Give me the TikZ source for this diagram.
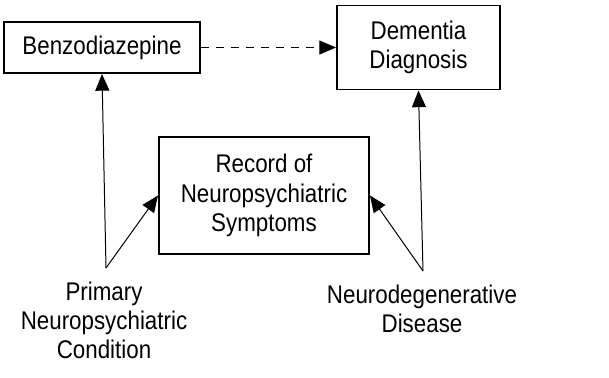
\documentclass[tikz,border=0pt]{standalone}
\usepackage{fontspec}
\setmainfont{Liberation Sans}[FakeStretch=0.875]
\usepackage{tikz}
\usetikzlibrary{arrows.meta,positioning}
\tikzset{
  box/.style={
    draw=black, line width=1.7pt, align=center,
    font=\fontsize{21.8pt}{25pt}\selectfont, inner sep=0pt,
  },
  arrow/.style={-{Triangle[length=0.5cm, width=0.42cm]}, line width=0.85pt},
  darrow/.style={-{Triangle[length=0.5cm, width=0.42cm]}, line width=0.85pt,
    dash pattern=on 0.25cm off 0.2cm},
  lbl/.style={font=\fontsize{21.8pt}{24.5pt}\selectfont, align=center, inner sep=0pt},
}
\begin{document}
\begin{tikzpicture}
  \useasboundingbox (0,0) rectangle (18.27,-11.31);

  \node[box, minimum width=5.88cm, minimum height=1.53cm] (benzo)
    at (3.06,-1.425) {Benzodiazepine};

  \node[box, minimum width=4.89cm, minimum height=2.52cm,
        right=4.05cm of benzo] (dementia)
    {Dementia\\Diagnosis};

  \node[box, minimum width=6.3cm, minimum height=3.51cm,
        below right=1.86cm and -1.29cm of benzo] (record)
    {Record of\\Neuropsychiatric\\Symptoms};

  \coordinate (primsrc) at (3.18,-8.04);
  \coordinate (neurosrc) at (12.69,-8.13);

  \node[lbl, below=0.42cm of primsrc, xshift=-0.06cm] (primary)
    {Primary\\Neuropsychiatric\\Condition};
  \node[lbl, below=0.42cm of neurosrc, xshift=-0.03cm] (neurodeg)
    {Neurodegenerative\\Disease};

  \draw[darrow] (benzo.east) -- (dementia.west);
  \draw[arrow] (primsrc) -- (benzo.south);
  \draw[arrow] (primsrc) -- (record.west);
  \draw[arrow] (neurosrc) -- (dementia.south);
  \draw[arrow] (neurosrc) -- (record.east);

\end{tikzpicture}
\end{document}
